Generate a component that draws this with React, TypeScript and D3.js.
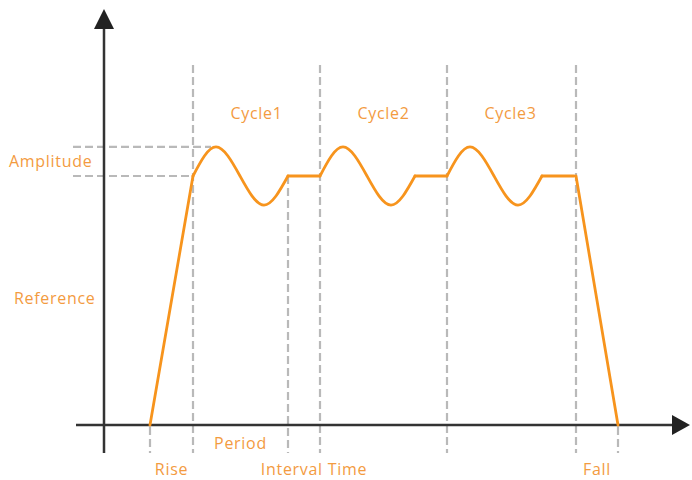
import React from "react";
import * as d3 from "d3";

// ---- data (time units along x, signal level along y) ----
const riseStart = 46;
const riseEnd = 89;
const cycleStarts = [89, 216, 343];
const cycleLabels = ["Cycle1", "Cycle2", "Cycle3"];
const waveOffsets = [0, 23, 47, 71, 95];
const waveValues = [60, 67, 60, 53, 60];
const intervalLength = 32;
const fallStart = 472;
const fallEnd = 514;
const referenceLevel = 60;
const peakLevel = 67;
const baseLevel = 0;
const boundaryTimes = [riseEnd, 184, 216, 343, fallStart];
const lowerBoundaryTimes = [riseStart, fallEnd];

const W = 692;
const H = 480;
const ORANGE = "#f7941d";
const TEXT = "#f39b3f";
const GREY = "#b9b9b9";
const AXIS = "#333333";
const FONT = "'Open Sans', 'Noto Sans', sans-serif";

export default function App() {
  const x = d3.scaleLinear().domain([0, 586]).range([104, 690]);
  const y = d3.scaleLinear().domain([0, 100]).range([425, 10]);

  const line = d3
    .line<[number, number]>()
    .x((d) => x(d[0]))
    .y((d) => y(d[1]));
  const curve = d3
    .line<[number, number]>()
    .x((d) => x(d[0]))
    .y((d) => y(d[1]))
    .curve(d3.curveNatural);

  const risePts: [number, number][] = [
    [riseStart, baseLevel],
    [riseEnd, referenceLevel],
  ];
  const fallPts: [number, number][] = [
    [fallStart, referenceLevel],
    [fallEnd, baseLevel],
  ];

  const waveLen = waveOffsets[waveOffsets.length - 1];
  const axisX0 = 76;
  const axisY = y(0);
  const axisXEnd = 690;
  const yAxisX = x(0);
  const yAxisBottom = 453;
  const yTop = 9;
  const dashTop = 65;

  return (
    <svg width={W} height={H} style={{ position: "absolute", left: 0, top: 0, background: "#fff" }}>
      {/* amplitude guides */}
      <line x1={73} x2={x(riseEnd) + 18} y1={y(peakLevel)} y2={y(peakLevel)} stroke={GREY} strokeWidth={2.2} strokeDasharray="8,4" />
      <line x1={73} x2={x(riseEnd)} y1={y(referenceLevel)} y2={y(referenceLevel)} stroke={GREY} strokeWidth={2.2} strokeDasharray="8,4" />
      {/* vertical boundaries */}
      {boundaryTimes.map((t, i) => (
        <line
          key={"b" + i}
          x1={x(t)}
          x2={x(t)}
          y1={i === 1 ? y(referenceLevel) : dashTop}
          y2={yAxisBottom}
          stroke={GREY}
          strokeWidth={2.2}
          strokeDasharray="8,4"
        />
      ))}
      {lowerBoundaryTimes.map((t, i) => (
        <line key={"lb" + i} x1={x(t)} x2={x(t)} y1={axisY + 2} y2={yAxisBottom} stroke={GREY} strokeWidth={2.2} strokeDasharray="8,4" />
      ))}

      {/* axes */}
      <line x1={axisX0} x2={axisXEnd - 14} y1={axisY} y2={axisY} stroke={AXIS} strokeWidth={2.5} />
      <path d={`M${axisXEnd},${axisY} L${axisXEnd - 18},${axisY - 10} L${axisXEnd - 18},${axisY + 10} Z`} fill="#222" />
      <line x1={yAxisX} x2={yAxisX} y1={yAxisBottom} y2={yTop + 14} stroke={AXIS} strokeWidth={2.5} />
      <path d={`M${yAxisX},${yTop} L${yAxisX - 10},${yTop + 20} L${yAxisX + 10},${yTop + 20} Z`} fill="#222" />

      {/* signal */}
      <g fill="none" stroke={ORANGE} strokeWidth={2.8} strokeLinecap="round" strokeLinejoin="round">
        <path d={line(risePts) || ""} />
        {cycleStarts.map((s, i) => {
          const pts: [number, number][] = waveOffsets.map((o, j) => [s + o, waveValues[j]]);
          const end = s + waveLen;
          const plateau: [number, number][] = [
            [end, referenceLevel],
            [end + intervalLength, referenceLevel],
          ];
          return (
            <g key={"c" + i}>
              <path d={curve(pts) || ""} />
              <path d={line(plateau) || ""} />
            </g>
          );
        })}
        <path d={line(fallPts) || ""} />
      </g>

      {/* labels */}
      <g fill={TEXT} fontFamily={FONT} fontSize={16} fontWeight={500} letterSpacing={0.7}>
        <text x={9} y={167}>Amplitude</text>
        <text x={14} y={304}>Reference</text>
        {cycleStarts.map((s, i) => (
          <text key={"cl" + i} x={x(s + (waveLen + intervalLength) / 2)} y={119} textAnchor="middle">
            {cycleLabels[i]}
          </text>
        ))}
        <text x={x(riseEnd + waveLen / 2)} y={449} textAnchor="middle">Period</text>
        <text x={x((riseStart + riseEnd) / 2)} y={475} textAnchor="middle">Rise</text>
        <text x={x(210)} y={475} textAnchor="middle">Interval Time</text>
        <text x={x((fallStart + fallEnd) / 2)} y={475} textAnchor="middle">Fall</text>
      </g>
    </svg>
  );
}
